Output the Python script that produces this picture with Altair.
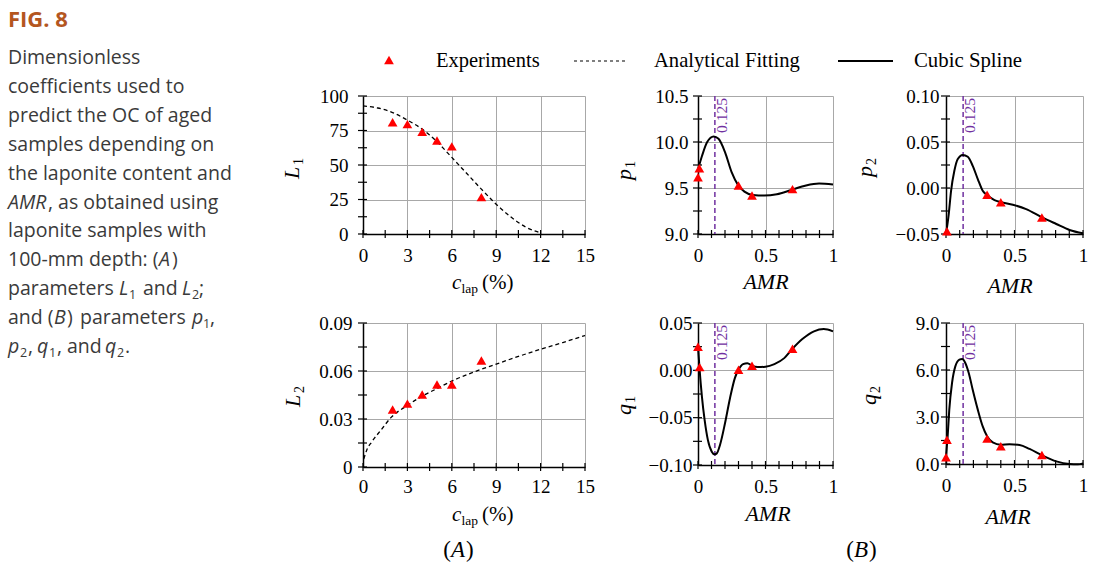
import altair as alt
import pandas as pd

SERIF = "Liberation Serif"
SANS = "Open Sans"
RED = "#ff0000"
PURPLE = "#7030a0"
GRID = "#a8a8a8"
INK = "#000000"
CAP = "#3a3a3a"
FIGC = "#b4561f"

# ---------------- data ----------------
c_exp = [2, 3, 4, 5, 6, 8]
L1_exp = [81.0, 79.6, 74.0, 67.7, 63.5, 26.7]
L2_exp = [0.0359, 0.0396, 0.0453, 0.0516, 0.0516, 0.0666]

c_fit1 = [0, 1, 2, 3, 4, 5, 6, 7, 8, 9, 10, 11, 12]
L1_fit = [92.8, 91.3, 88.0, 82.5, 76.0, 66.8, 55.5, 44.0, 32.5, 21.6, 12.3, 5.0, 0.8]

c_fit2 = [0.05, 0.25, 0.6, 1.2, 1.9, 3, 4, 5, 6, 7.5, 9, 10.5, 12, 13.5, 15]
L2_fit = [0.005, 0.0105, 0.0158, 0.0229, 0.031, 0.0385, 0.0443, 0.049, 0.0537,
          0.0594, 0.0643, 0.0691, 0.0736, 0.0778, 0.0822]

amr_p1 = [0.01, 0.0, 0.3, 0.4, 0.7]
p1_exp = [9.715, 9.617, 9.527, 9.419, 9.488]
amr_s1 = [0.0, 0.03, 0.068, 0.116, 0.152, 0.2, 0.249, 0.296, 0.344, 0.406, 0.49,
          0.584, 0.692, 0.8, 0.897, 1.0]
p1_s = [9.70, 9.85, 10.0, 10.06, 10.035, 9.89, 9.672, 9.534, 9.461, 9.425, 9.418,
        9.432, 9.479, 9.527, 9.548, 9.537]

amr_p2 = [0.007, 0.3, 0.4, 0.7]
p2_exp = [-0.047, -0.0073, -0.0155, -0.032]
amr_s2 = [0.0, 0.02, 0.037, 0.061, 0.085, 0.122, 0.159, 0.195, 0.232, 0.268, 0.3,
          0.354, 0.4, 0.488, 0.585, 0.702, 0.805, 0.902, 1.0]
p2_s = [-0.050, -0.0283, -0.003, 0.0187, 0.0313, 0.036, 0.0339, 0.0241, 0.0097,
        -0.003, -0.0077, -0.0131, -0.0153, -0.0182, -0.0229, -0.032, -0.0391,
        -0.0456, -0.0493]

amr_q1 = [0.0, 0.012, 0.3, 0.4, 0.7]
q1_exp = [0.025, 0.0034, 0.0006, 0.0048, 0.0228]
amr_s3 = [0.0, 0.012, 0.029, 0.049, 0.073, 0.102, 0.122, 0.139, 0.163, 0.2, 0.237,
          0.273, 0.3, 0.334, 0.366, 0.4, 0.444, 0.5, 0.566, 0.639, 0.7, 0.773,
          0.859, 0.932, 1.0]
q1_s = [0.0253, 0.0006, -0.0277, -0.0524, -0.0735, -0.0859, -0.0887, -0.0877,
        -0.0788, -0.0559, -0.0294, -0.0082, 0.0006, 0.0066, 0.0076, 0.0048, 0.0034,
        0.0038, 0.0066, 0.0129, 0.0228, 0.033, 0.0412, 0.0436, 0.0412]

amr_q2 = [0.007, 0.0, 0.3, 0.4, 0.7]
q2_exp = [1.55, 0.43, 1.62, 1.13, 0.57]
amr_s4 = [0.0, 0.012, 0.024, 0.044, 0.068, 0.098, 0.117, 0.141, 0.166, 0.195, 0.232,
          0.268, 0.3, 0.341, 0.4, 0.463, 0.537, 0.61, 0.702, 0.805, 0.902, 0.963, 1.0]
q2_s = [0.49, 1.77, 3.47, 5.17, 6.23, 6.66, 6.70, 6.45, 5.81, 4.74, 3.47, 2.40, 1.77,
        1.38, 1.23, 1.26, 1.21, 0.96, 0.55, 0.17, 0.0, -0.02, 0.04]

amr_mark = [0.125]

# tick values
c_major = [0, 3, 6, 9, 12, 15]
amr_major = [0, 0.5, 1]
L1_major = [0, 25, 50, 75, 100]
L2_major = [0, 0.03, 0.06, 0.09]
p1_major = [9.0, 9.5, 10.0, 10.5]
p2_major = [-0.05, 0.0, 0.05, 0.10]
q1_major = [-0.10, -0.05, 0.0, 0.05]
q2_major = [0.0, 3.0, 6.0, 9.0]


def steps(a, b, step):
    n = int(round((b - a) / step))
    return [round(a + i * step, 6) for i in range(n + 1)]


ONE = [{"k": 0}]


def txt(text, x, y, size=18, font=SERIF, style="normal", weight="normal",
        align="left", baseline="alphabetic", angle=0, color=INK):
    return alt.Chart(alt.Data(values=ONE)).mark_text(
        text=text, font=font, fontSize=size, fontStyle=style, fontWeight=weight,
        align=align, baseline=baseline, angle=angle, color=color
    ).encode(x=alt.value(x), y=alt.value(y))


def ytitle(letter, sub, bx, y0, adv):
    return [txt(letter, bx, y0, size=22, style="italic", angle=270),
            txt(sub, bx + 4, y0 - adv, size=14, angle=270)]


def clap_title(x0, base):
    return [txt("c", x0, base, 21, style="italic"),
            txt("lap", x0 + 9.5, base + 4, 13.5),
            txt("(%)", x0 + 30, base, 21)]


def amr_title(cx, base):
    return [txt("AMR", cx, base, 22, style="italic", align="center")]


def panel(w, h, xdom, ydom, xmaj, ymaj, xminor, yminor, xfmt, yfmt, xpad, ypad,
          px, py, cx, cy, dashed, vline, extra):
    xs = alt.Scale(domain=xdom, nice=False, zero=False)
    ys = alt.Scale(domain=ydom, nice=False, zero=False)
    common = dict(grid=True, gridColor=GRID, gridWidth=1, ticks=False, tickSize=0,
                  domainColor=INK, domainWidth=1.5, labelFont=SERIF, labelFontSize=19,
                  labelColor=INK, title=None, labelFlush=False, labelOverlap=False)
    xax = alt.Axis(values=xmaj, format=xfmt, labelPadding=xpad, **common)
    yax = alt.Axis(values=ymaj, format=yfmt, labelPadding=ypad, **common)

    curve_df = pd.DataFrame({"x": cx, "y": cy})
    if dashed:
        line = alt.Chart(curve_df).mark_line(color=INK, strokeWidth=1.3,
                                             strokeDash=[4, 3], interpolate="monotone")
    else:
        line = alt.Chart(curve_df).mark_line(color=INK, strokeWidth=2,
                                             interpolate="monotone")
    line = line.encode(x=alt.X("x:Q", scale=xs, axis=xax),
                       y=alt.Y("y:Q", scale=ys, axis=yax))

    xt = alt.Chart(pd.DataFrame({"v": xminor})).mark_rule(color=INK, strokeWidth=1.2).encode(
        x=alt.X("v:Q", scale=xs, axis=xax), y=alt.value(h - 4), y2=alt.value(h + 4))
    yt = alt.Chart(pd.DataFrame({"v": yminor})).mark_rule(color=INK, strokeWidth=1.2).encode(
        y=alt.Y("v:Q", scale=ys, axis=yax), x=alt.value(-5), x2=alt.value(4))

    pts = alt.Chart(pd.DataFrame({"x": px, "y": py})).mark_point(
        shape="triangle-up", filled=True, size=95, color=RED, opacity=1, strokeWidth=0
    ).encode(x=alt.X("x:Q", scale=xs, axis=xax), y=alt.Y("y:Q", scale=ys, axis=yax))

    layers = [xt, yt]
    if vline:
        vdf = pd.DataFrame({"v": amr_mark})
        layers.append(alt.Chart(vdf).mark_rule(color=PURPLE, strokeWidth=1.5,
                                               strokeDash=[5, 3]).encode(
            x=alt.X("v:Q", scale=xs, axis=xax), y=alt.value(0), y2=alt.value(h)))
        layers.append(alt.Chart(vdf).mark_text(
            text="0.125", angle=270, align="right", baseline="top", font=SERIF,
            fontSize=15.5, color=PURPLE).encode(
            x=alt.X("v:Q", scale=xs, axis=xax), y=alt.value(2)))
    layers += [line, pts]
    layers += extra
    return alt.layer(*layers).properties(width=w, height=h)


# ---------------- annotations for the first panel ----------------
CX0 = -355
cap_lines = [
    [("Dimensionless", "n", 0)],
    [("coefficients used to", "n", 0)],
    [("predict the OC of aged", "n", 0)],
    [("samples depending on", "n", 0)],
    [("the laponite content and", "n", 0)],
    [("AMR", "i", 0), (", as obtained using", "n", 40)],
    [("laponite samples with", "n", 0)],
    [("100-mm depth: (", "n", 0), ("A", "i", 151), (")", "n", 164)],
    [("parameters", "n", 0), ("L", "i", 111), ("1", "s", 121), ("and", "n", 135),
     ("L", "i", 174), ("2", "s", 184), (";", "n", 191)],
    [("and (", "n", 0), ("B", "i", 46), (")", "n", 59), ("parameters", "n", 72),
     ("p", "i", 184), ("1", "s", 195), (",", "n", 202)],
    [("p", "i", 0), ("2", "s", 12), (",", "n", 20), ("q", "i", 29), ("1", "s", 41),
     (",", "n", 49), ("and", "n", 59), ("q", "i", 97), ("2", "s", 109), (".", "n", 117)],
]
top_extra = [txt("FIG. 8", CX0, -85.7, 22, font=SANS, weight="bold", baseline="top",
                 color=FIGC)]
for i, segs in enumerate(cap_lines):
    base = -32 + 28.9 * i
    for t, kind, off in segs:
        if kind == "s":
            top_extra.append(txt(t, CX0 + off, base + 4, 12.5, font=SANS, color=CAP))
        else:
            top_extra.append(txt(t, CX0 + off, base, 19.5, font=SANS,
                                 style="italic" if kind == "i" else "normal", color=CAP))

# legend
leg_one = alt.Data(values=ONE)
top_extra += [
    alt.Chart(leg_one).mark_point(shape="triangle-up", filled=True, size=95, color=RED,
                                  opacity=1, strokeWidth=0).encode(
        x=alt.value(26), y=alt.value(-36)),
    txt("Experiments", 73, -29, 20.5),
    alt.Chart(leg_one).mark_rule(color=INK, strokeWidth=1.2, strokeDash=[3, 3]).encode(
        x=alt.value(211), x2=alt.value(265), y=alt.value(-35)),
    txt("Analytical Fitting", 291, -29, 20.6),
    alt.Chart(leg_one).mark_rule(color=INK, strokeWidth=2).encode(
        x=alt.value(475), x2=alt.value(530), y=alt.value(-35)),
    txt("Cubic Spline", 551, -29, 20.8),
]
top_extra += ytitle("L", "1", -64, 83, 14) + clap_title(89, 193)

bot_extra = ytitle("L", "2", -63, 84, 14) + clap_title(89, 198) + [
    txt("(", 88, 234, 23, align="right"),
    txt("A", 95, 234, 23, style="italic", align="center"),
    txt(")", 103, 234, 23),
]

W0, W1, W2 = 222, 135, 137

A_top = panel(W0, 138, [0, 15], [0, 100], c_major, L1_major, steps(0, 15, 1.5),
              steps(0, 100, 12.5), "d", "d", 12, 15, c_exp, L1_exp, c_fit1, L1_fit,
              True, False, top_extra)

P1 = panel(W1, 138, [0, 1], [9.0, 10.5], amr_major, p1_major, steps(0, 1, 0.1),
           steps(9.0, 10.5, 0.25), "~g", ".1f", 12, 10, amr_p1, p1_exp, amr_s1, p1_s,
           False, True, ytitle("p", "1", -67, 84, 12) + amr_title(68, 193))

P2 = panel(W2, 138, [0, 1], [-0.05, 0.10], amr_major, p2_major, steps(0, 1, 0.1),
           steps(-0.05, 0.10, 0.025), "~g", ".2f", 12, 7, amr_p2, p2_exp, amr_s2, p2_s,
           False, True, ytitle("p", "2", -74, 81, 12) + amr_title(64, 197))

A_bot = panel(W0, 144, [0, 15], [0, 0.09], c_major, L2_major, steps(0, 15, 1.5),
              steps(0, 0.09, 0.015), "d", "~g", 10, 11, c_exp, L2_exp, c_fit2, L2_fit,
              True, False, bot_extra)

Q1 = panel(W1, 142, [0, 1], [-0.10, 0.05], amr_major, q1_major, steps(0, 1, 0.1),
           steps(-0.10, 0.05, 0.025), "~g", ".2f", 12, 6, amr_q1, q1_exp, amr_s3, q1_s,
           False, True, ytitle("q", "1", -67, 92, 12) + amr_title(70, 198) + [
               txt("(", 156, 234, 23, align="right"),
               txt("B", 163, 234, 23, style="italic", align="center"),
               txt(")", 171, 234, 23),
           ])

Q2 = panel(W2, 141, [0, 1], [0.0, 9.0], amr_major, q2_major, steps(0, 1, 0.1),
           steps(0, 9, 1.5), "~g", ".1f", 12, 7, amr_q2, q2_exp, amr_s4, q2_s,
           False, True, ytitle("q", "2", -70, 82, 12) + amr_title(62, 201))

chart = alt.concat(A_top, P1, P2, A_bot, Q1, Q2, columns=3,
                   spacing={"row": 89, "column": 113}, bounds="flush").properties(
    padding={"left": 8, "top": 9, "right": 5, "bottom": 5},
    background="white",
).configure_view(stroke=None)

chart.save("out.html", embed_options={"renderer": "svg", "actions": False})
